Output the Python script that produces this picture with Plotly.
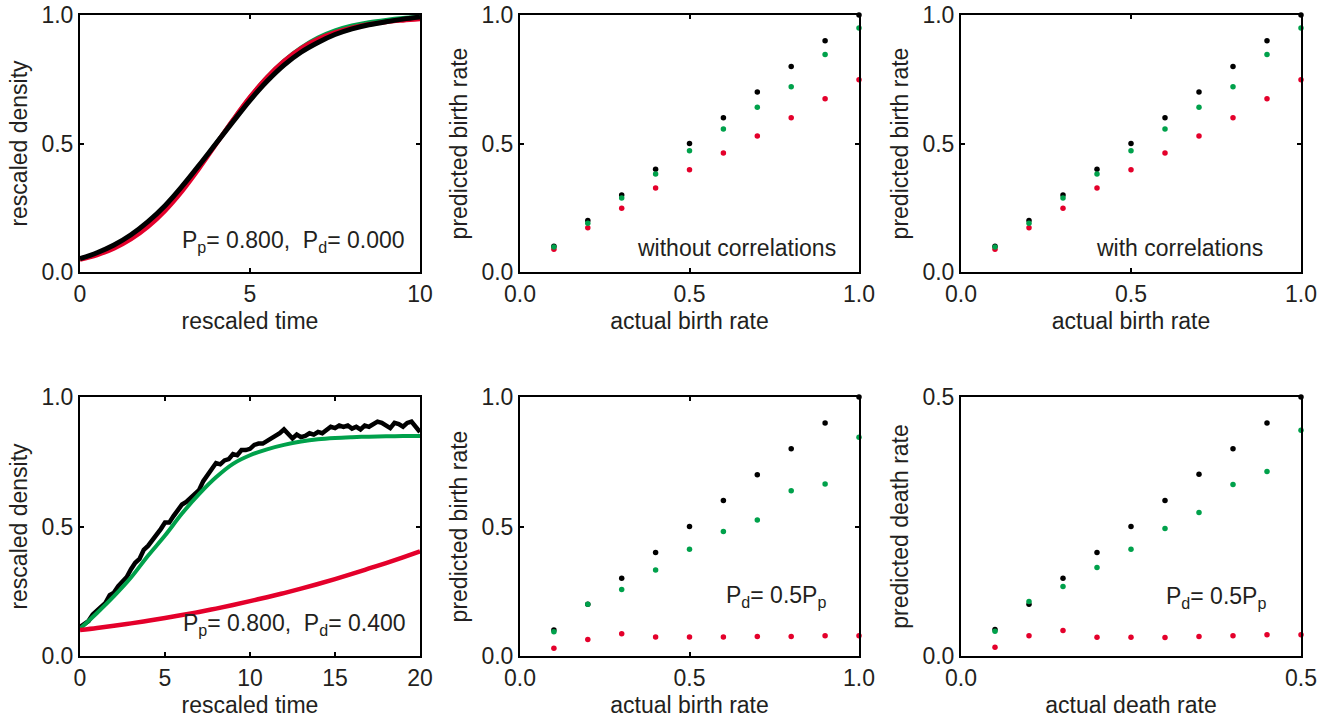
import plotly.graph_objects as go

# ---------------- data ----------------
# Panel 1: Pp=0.800, Pd=0.000
t1 = [0, 0.5, 1, 1.5, 2, 2.5, 3, 3.5, 4, 4.5, 5, 5.5, 6, 6.5, 7, 7.5, 8, 8.5, 9, 9.5, 10]
p1_black = [0.052, 0.075, 0.105, 0.145, 0.196, 0.258, 0.333, 0.415, 0.500, 0.585, 0.668,
            0.742, 0.805, 0.855, 0.893, 0.924, 0.946, 0.962, 0.974, 0.984, 0.992]
p1_green = [0.050, 0.071, 0.099, 0.137, 0.187, 0.249, 0.324, 0.409, 0.500, 0.592, 0.680,
            0.758, 0.822, 0.873, 0.912, 0.940, 0.959, 0.972, 0.981, 0.988, 0.993]
p1_red = [0.048, 0.066, 0.092, 0.128, 0.176, 0.238, 0.314, 0.402, 0.497, 0.592, 0.681,
          0.758, 0.821, 0.870, 0.906, 0.932, 0.951, 0.964, 0.973, 0.979, 0.984]

# Panel 4: Pp=0.800, Pd=0.400
t4 = [0, 1, 2, 3, 4, 5, 6, 7, 8, 9, 10, 11, 12, 13, 14, 15, 16, 17, 18, 19, 20]
p4_green = [0.105, 0.166, 0.231, 0.303, 0.387, 0.465, 0.550, 0.625, 0.690, 0.742, 0.775,
            0.798, 0.815, 0.828, 0.837, 0.842, 0.845, 0.847, 0.848, 0.849, 0.849]
p4_red = [0.100, 0.108, 0.117, 0.126, 0.136, 0.147, 0.158, 0.170, 0.183, 0.197, 0.212,
          0.227, 0.243, 0.260, 0.278, 0.297, 0.317, 0.338, 0.359, 0.381, 0.404]
t4_black = [i * 0.25 for i in range(81)]
p4_black = [0.112, 0.125, 0.135, 0.160, 0.175, 0.190, 0.205, 0.235, 0.245, 0.270,
            0.290, 0.305, 0.335, 0.360, 0.375, 0.410, 0.425, 0.445, 0.470, 0.490,
            0.515, 0.515, 0.540, 0.565, 0.585, 0.595, 0.610, 0.620, 0.640, 0.675,
            0.700, 0.720, 0.745, 0.740, 0.755, 0.760, 0.780, 0.775, 0.795, 0.795,
            0.800, 0.815, 0.820, 0.820, 0.830, 0.835, 0.845, 0.860, 0.875, 0.860,
            0.840, 0.855, 0.845, 0.850, 0.860, 0.855, 0.865, 0.860, 0.870, 0.885,
            0.880, 0.890, 0.885, 0.890, 0.878, 0.885, 0.875, 0.890, 0.885, 0.895,
            0.905, 0.900, 0.890, 0.880, 0.900, 0.895, 0.885, 0.900, 0.905, 0.885,
            0.865]

# Panels 2 & 3: actual vs predicted birth rate
birth_actual = [0.1, 0.2, 0.3, 0.4, 0.5, 0.6, 0.7, 0.8, 0.9, 1.0]
p2_black = [0.1, 0.2, 0.3, 0.4, 0.5, 0.6, 0.7, 0.8, 0.9, 1.0]
p2_green = [0.097, 0.190, 0.288, 0.381, 0.472, 0.556, 0.641, 0.721, 0.846, 0.949]
p2_red = [0.089, 0.172, 0.248, 0.327, 0.398, 0.463, 0.529, 0.600, 0.674, 0.748]
p3_black = [0.1, 0.2, 0.3, 0.4, 0.5, 0.6, 0.7, 0.8, 0.9, 1.0]
p3_green = [0.097, 0.190, 0.288, 0.381, 0.472, 0.556, 0.641, 0.721, 0.846, 0.949]
p3_red = [0.089, 0.172, 0.248, 0.327, 0.398, 0.463, 0.529, 0.600, 0.674, 0.748]

# Panel 5: Pd = 0.5 Pp, birth rate
p5_black = [0.1, 0.2, 0.3, 0.4, 0.5, 0.6, 0.7, 0.8, 0.9, 1.0]
p5_green = [0.094, 0.200, 0.257, 0.332, 0.412, 0.481, 0.525, 0.638, 0.664, 0.845]
p5_red = [0.030, 0.064, 0.086, 0.073, 0.073, 0.073, 0.075, 0.075, 0.078, 0.078]

# Panel 6: Pd = 0.5 Pp, death rate
death_actual = [0.05, 0.10, 0.15, 0.20, 0.25, 0.30, 0.35, 0.40, 0.45, 0.50]
p6_black = [0.051, 0.100, 0.150, 0.200, 0.250, 0.300, 0.351, 0.400, 0.450, 0.500]
p6_green = [0.048, 0.105, 0.134, 0.171, 0.206, 0.246, 0.277, 0.331, 0.356, 0.436]
p6_red = [0.017, 0.039, 0.049, 0.036, 0.036, 0.0356, 0.0375, 0.039, 0.041, 0.041]

# ---------------- style ----------------
BLACK = "#000000"
GREEN = "#00a14b"
RED = "#e4002b"
TXT = "#231f20"
FONT = "Liberation Sans, Arial, Helvetica, sans-serif"
FS = 23

fig = go.Figure()

def line(x, y, color, width, ax, shape="spline"):
    fig.add_trace(go.Scatter(x=x, y=y, mode="lines", xaxis="x" + ax, yaxis="y" + ax,
                             line=dict(color=color, width=width, shape=shape),
                             showlegend=False, hoverinfo="skip", cliponaxis=True))

def dots(x, y, color, ax):
    fig.add_trace(go.Scatter(x=x, y=y, mode="markers", xaxis="x" + ax, yaxis="y" + ax,
                             marker=dict(color=color, size=5.5, line=dict(width=0)),
                             showlegend=False, cliponaxis=False))

# panel 1
line(t1, p1_green, GREEN, 4, "")
line(t1, p1_red, RED, 4.5, "")
line(t1, p1_black, BLACK, 5, "")
# panel 2
dots(birth_actual, p2_red, RED, "2")
dots(birth_actual, p2_black, BLACK, "2")
dots(birth_actual, p2_green, GREEN, "2")
# panel 3
dots(birth_actual, p3_red, RED, "3")
dots(birth_actual, p3_black, BLACK, "3")
dots(birth_actual, p3_green, GREEN, "3")
# panel 4
line(t4_black, p4_black, BLACK, 4.5, "4", shape="linear")
line(t4, p4_green, GREEN, 4, "4")
line(t4, p4_red, RED, 4.5, "4")
# panel 5
dots(birth_actual, p5_red, RED, "5")
dots(birth_actual, p5_black, BLACK, "5")
dots(birth_actual, p5_green, GREEN, "5")
# panel 6
dots(death_actual, p6_red, RED, "6")
dots(death_actual, p6_black, BLACK, "6")
dots(death_actual, p6_green, GREEN, "6")

# ---------------- layout ----------------
W, H = 1331, 719
ML, MR, MT, MB = 80, 30, 15, 63
PW, PH = W - ML - MR, H - MT - MB

def xdom(a, b):
    return [(a - ML) / PW, (b - ML) / PW]

def ydom(top, bot):
    return [(H - MB - bot) / PH, (H - MB - top) / PH]

cols = [xdom(80, 420), xdom(520, 859), xdom(961, 1301)]
rows = [ydom(15, 272), ydom(397, 656)]

def axis(dom, rng, vals, texts, title, anchor):
    return dict(domain=dom, range=rng, tickvals=vals, ticktext=texts, anchor=anchor,
                showgrid=False, zeroline=False, showline=True, linecolor="black",
                linewidth=2, mirror="allticks", ticks="inside", ticklen=4,
                tickwidth=1.5, tickcolor="black",
                tickfont=dict(family=FONT, size=FS, color=TXT),
                title=dict(text=title, font=dict(family=FONT, size=FS, color=TXT), standoff=7))

t01 = [0, 0.5, 1]
t01txt = ["0.0", "0.5", "1.0"]

layout = dict(
    width=W, height=H, paper_bgcolor="white", plot_bgcolor="white",
    margin=dict(l=ML, r=MR, t=MT, b=MB, autoexpand=False),
    font=dict(family=FONT, size=FS, color=TXT),
    xaxis=axis(cols[0], [0, 10], [0, 5, 10], ["0", "5", "10"], "rescaled time", "y"),
    yaxis=axis(rows[0], [0, 1], t01, t01txt, "rescaled density", "x"),
    xaxis2=axis(cols[1], [0, 1], t01, t01txt, "actual birth rate", "y2"),
    yaxis2=axis(rows[0], [0, 1], t01, t01txt, "predicted birth rate", "x2"),
    xaxis3=axis(cols[2], [0, 1], t01, t01txt, "actual birth rate", "y3"),
    yaxis3=axis(rows[0], [0, 1], t01, t01txt, "predicted birth rate", "x3"),
    xaxis4=axis(cols[0], [0, 20], [0, 5, 10, 15, 20], ["0", "5", "10", "15", "20"], "rescaled time", "y4"),
    yaxis4=axis(rows[1], [0, 1], t01, t01txt, "rescaled density", "x4"),
    xaxis5=axis(cols[1], [0, 1], t01, t01txt, "actual birth rate", "y5"),
    yaxis5=axis(rows[1], [0, 1], t01, t01txt, "predicted birth rate", "x5"),
    xaxis6=axis(cols[2], [0, 0.5], [0, 0.5], ["0.0", "0.5"], "actual death rate", "y6"),
    yaxis6=axis(rows[1], [0, 0.5], [0, 0.5], ["0.0", "0.5"], "predicted death rate", "x6"),
)
fig.update_layout(**layout)

def note(text, x, y, ax):
    fig.add_annotation(text=text, x=x, y=y, xref="x" + ax, yref="y" + ax,
                       xanchor="right", yanchor="middle", showarrow=False,
                       font=dict(family=FONT, size=FS, color=TXT))

note("P<sub>p</sub>= 0.800,&nbsp;&nbsp;P<sub>d</sub>= 0.000", 9.62, 0.117, "")
note("without correlations", 0.938, 0.093, "2")
note("with correlations", 0.894, 0.093, "3")
note("P<sub>p</sub>= 0.800,&nbsp;&nbsp;P<sub>d</sub>= 0.400", 19.3, 0.12, "4")
note("P<sub>d</sub>= 0.5P<sub>p</sub>", 0.909, 0.229, "5")
note("P<sub>d</sub>= 0.5P<sub>p</sub>", 0.451, 0.113, "6")

fig.write_html("out.html")
